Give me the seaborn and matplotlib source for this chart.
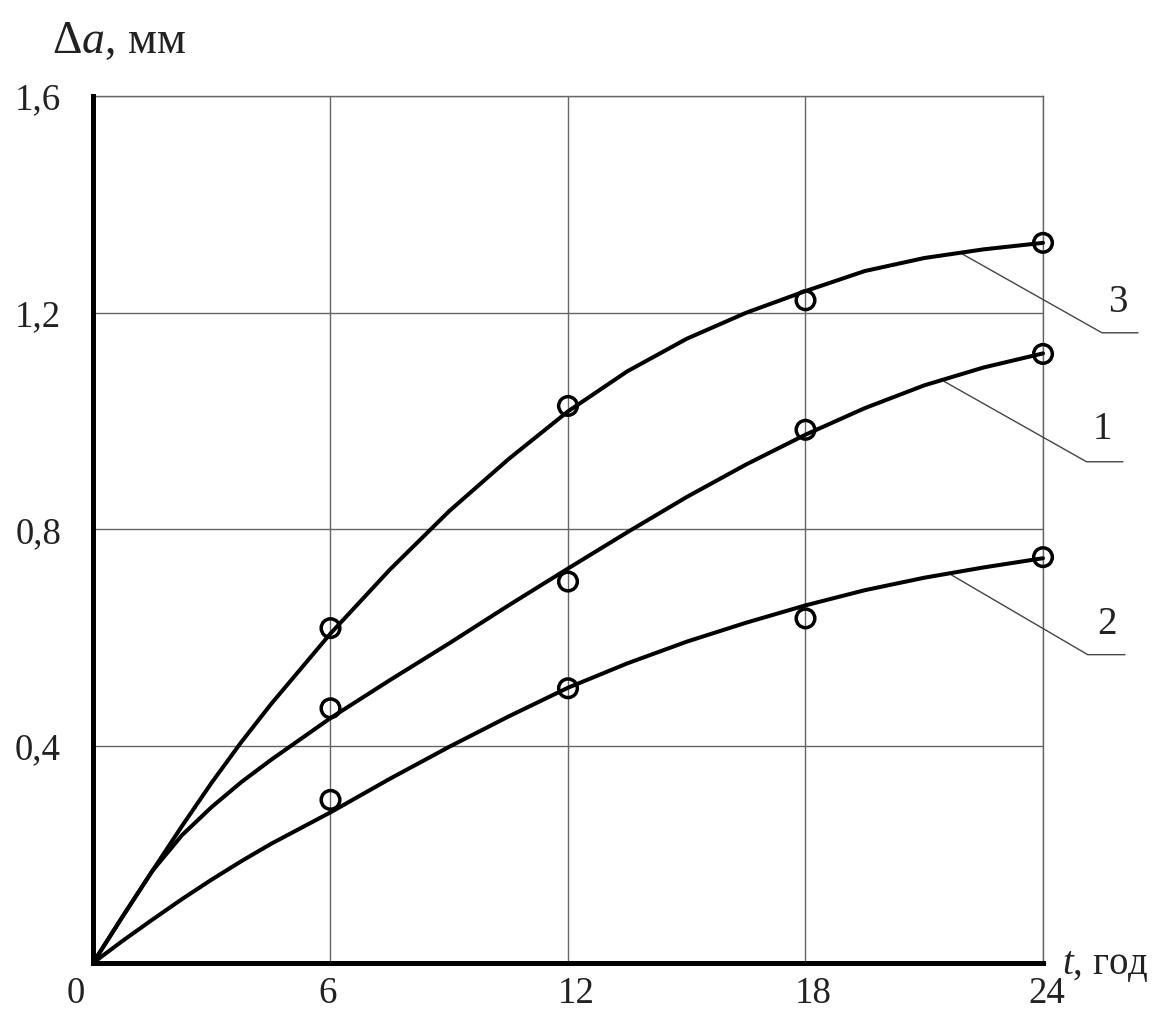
import numpy as np
import pandas as pd
import seaborn as sns
import matplotlib.pyplot as plt
import matplotlib.transforms as mtransforms

# виміряні точки (t, год -> Δa, мм)
t_pts = [6, 12, 18, 24]
pts_1 = [0.470, 0.704, 0.984, 1.124]
pts_2 = [0.301, 0.507, 0.636, 0.749]
pts_3 = [0.618, 1.028, 1.223, 1.329]

# згладжені криві
t_curve = [0, 0.75, 1.5, 2.25, 3, 3.75, 4.5, 6, 7.5, 9, 10.5, 12, 13.5, 15, 16.5, 18, 19.5, 21, 22.5, 24]
curve_1 = [0, 0.086, 0.17, 0.236, 0.288, 0.334, 0.375, 0.452, 0.522, 0.59, 0.66, 0.728, 0.795,
           0.86, 0.92, 0.975, 1.024, 1.066, 1.099, 1.125]
curve_2 = [0, 0.041, 0.08, 0.118, 0.154, 0.188, 0.22, 0.278, 0.34, 0.399, 0.455, 0.508, 0.553,
           0.593, 0.628, 0.66, 0.688, 0.711, 0.730, 0.747]
curve_3 = [0, 0.086, 0.17, 0.253, 0.333, 0.408, 0.478, 0.608, 0.726, 0.834, 0.93, 1.018, 1.092,
           1.152, 1.2, 1.24, 1.277, 1.301, 1.317, 1.329]

x_ticks = [0, 6, 12, 18, 24]
x_labels = ['0', '6', '12', '18', '24']
y_ticks = [0.4, 0.8, 1.2, 1.6]
y_labels = ['0,4', '0,8', '1,2', '1,6']

n = len(t_curve)
curves = pd.DataFrame({
    't': t_curve * 3,
    'da': curve_1 + curve_2 + curve_3,
    'n': ['1'] * n + ['2'] * n + ['3'] * n,
})
points = pd.DataFrame({
    't': t_pts * 3,
    'da': pts_1 + pts_2 + pts_3,
    'n': ['1'] * 4 + ['2'] * 4 + ['3'] * 4,
})

sns.set_style('white')
plt.rcParams['font.family'] = ['Liberation Serif', 'DejaVu Serif']
plt.rcParams['mathtext.fontset'] = 'custom'
plt.rcParams['mathtext.rm'] = 'Liberation Serif'
plt.rcParams['mathtext.it'] = 'Liberation Serif:italic'

fig = plt.figure(figsize=(11.6, 10.14), dpi=100)
ax = fig.add_axes([93 / 1160, 51 / 1014, 950 / 1160, 867 / 1014])

sns.lineplot(data=curves, x='t', y='da', units='n', estimator=None, color='black',
             lw=2.9, ax=ax, sort=False, clip_on=False, zorder=4)
sns.scatterplot(data=points, x='t', y='da', ax=ax, marker='o', s=180,
                facecolor='none', edgecolor='black', linewidth=2.5, zorder=5, clip_on=False)

ax.set_xlim(0, 24)
ax.set_ylim(0, 1.6)
ax.set_xticks(x_ticks)
ax.set_xticklabels(x_labels)
ax.set_yticks(y_ticks)
ax.set_yticklabels(y_labels)
ax.set_xlabel('')
ax.set_ylabel('')
ax.tick_params(axis='both', length=0, labelsize=26.5, colors='#222222')
ax.tick_params(axis='x', pad=10)
ax.tick_params(axis='y', pad=23)

# трохи зсунути підписи по осі x, як на оригіналі
shifts = [-17, -3, 8, 8, 4]
for lab, dx in zip(ax.get_xticklabels(), shifts):
    lab.set_transform(lab.get_transform() + mtransforms.ScaledTranslation(dx / 100, 0, fig.dpi_scale_trans))

ax.grid(True, color='#666666', lw=1.0)
ax.spines['left'].set_linewidth(3.6)
ax.spines['bottom'].set_linewidth(3.6)
ax.spines['left'].set_color('black')
ax.spines['bottom'].set_color('black')
ax.spines['top'].set_linewidth(1.0)
ax.spines['right'].set_linewidth(1.0)
ax.spines['top'].set_color('#666666')
ax.spines['right'].set_color('#666666')
for s in ['left', 'bottom']:
    ax.spines[s].set_zorder(6)

# виноски з номерами кривих
leaders = {
    '3': ([21.9, 25.49, 26.4], [1.311, 1.163, 1.163], (25.89, 1.218)),
    '1': ([21.51, 25.1, 26.02], [1.073, 0.925, 0.925], (25.51, 0.984)),
    '2': ([21.69, 25.13, 26.07], [0.716, 0.569, 0.569], (25.61, 0.624)),
}
for name, (lx, ly, pos) in leaders.items():
    ax.plot(lx, ly, color='#444444', lw=1.0, clip_on=False, zorder=3)
    ax.text(pos[0], pos[1], name, fontsize=28, ha='center', va='center', color='#222222')

fig.text(52 / 1160, 1 - 53 / 1014, r'$\Delta a$, мм', fontsize=33, ha='left', va='baseline', color='#222222')
fig.text(1062 / 1160, 1 - 965 / 1014, r'$t$, год', fontsize=28, ha='left', va='center', color='#222222')

fig.savefig('out.png', dpi=100)
